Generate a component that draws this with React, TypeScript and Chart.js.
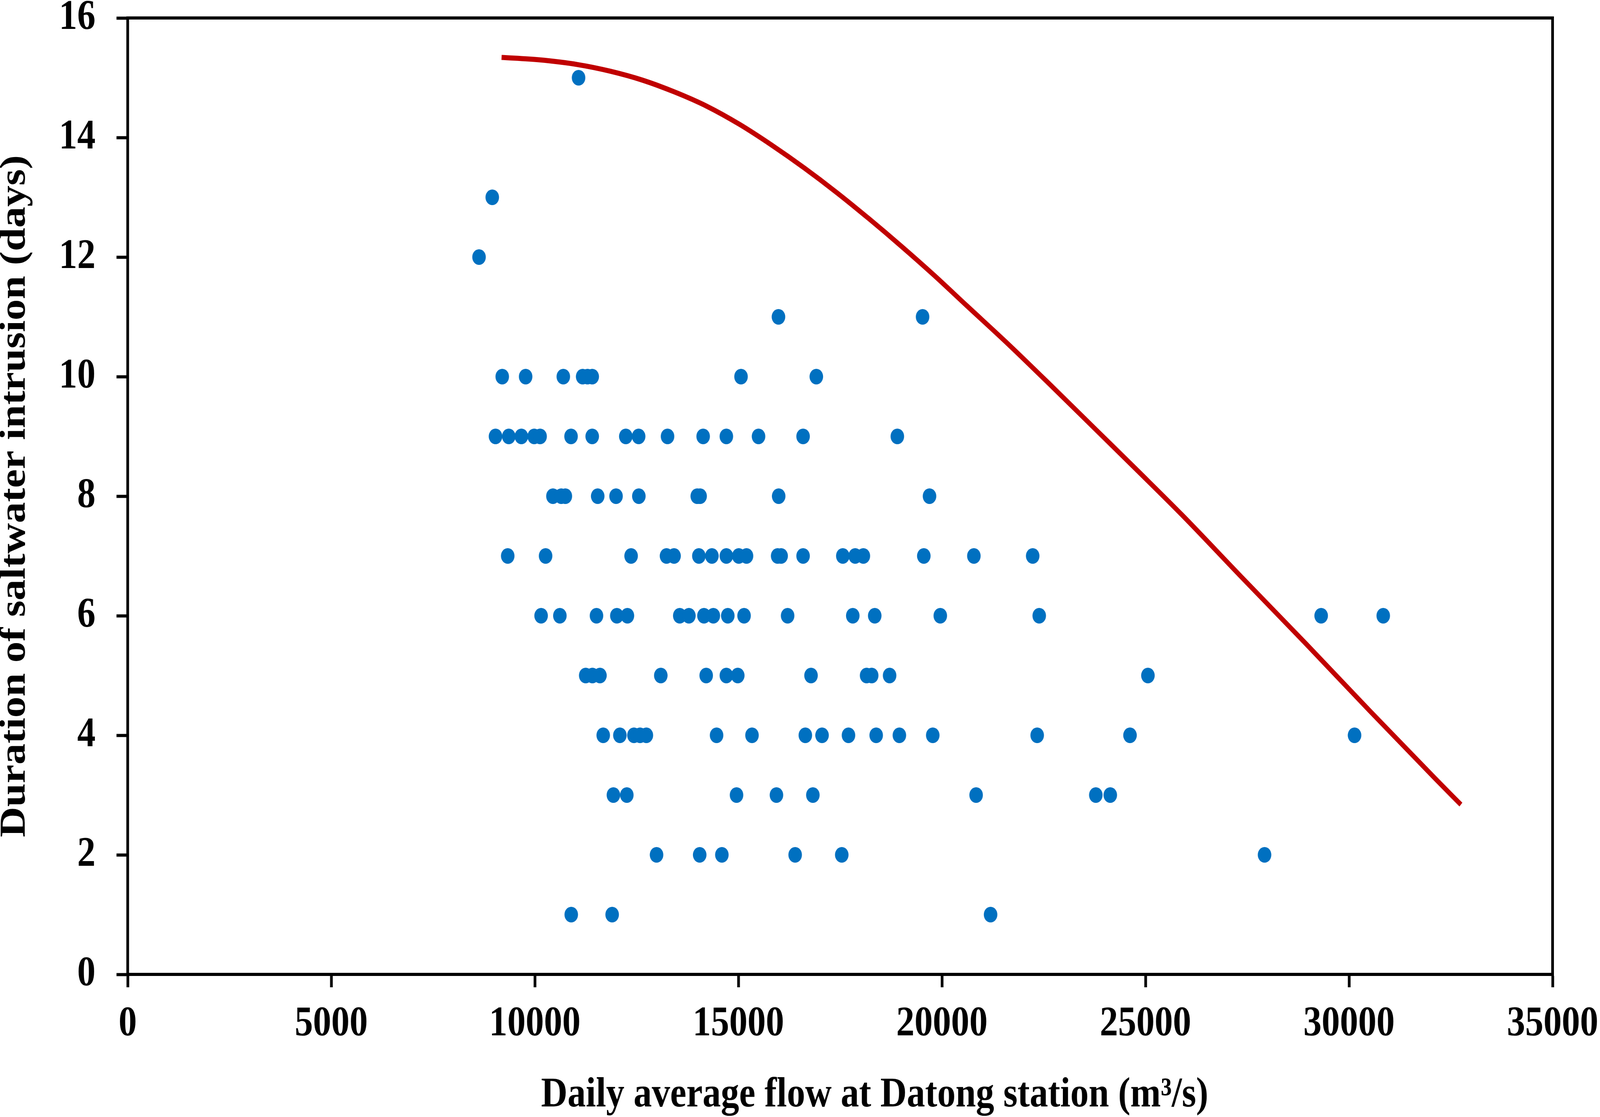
import { useEffect, useRef } from "react";
import { Chart, registerables } from "chart.js";

Chart.register(...registerables);

// ---- Axis ticks ----
const xTickValues = [0, 5000, 10000, 15000, 20000, 25000, 30000, 35000];
const yTickValues = [0, 2, 4, 6, 8, 10, 12, 14, 16];

// ---- Titles ----
const xTitle = "Daily average flow at Datong station (m³/s)";
const yTitle = "Duration of saltwater intrusion (days)";

// ---- Observed events: daily average flow (m3/s) ----
const observedFlow = [
  11075,
  8955,
  8630,
  15985, 19525,
  9200, 9775, 10700, 11175, 11295, 11410, 15065, 16915,
  9035, 9360, 9670, 9985, 10130, 10890, 11410, 12235, 12550, 13260, 14135, 14705, 15495, 16590, 18905,
  10445, 10650, 10750, 11545, 11995, 12555, 13990, 14060, 15990, 19695,
  9335, 10265, 12365, 13235, 13420, 14030, 14350, 14705, 15010, 15200, 15965, 16050, 16590, 17565, 17870, 18070, 19555, 20785, 22230,
  10155, 10615, 11515, 12015, 12275, 13560, 13785, 14155, 14385, 14740, 15140, 16210, 17810, 18350, 19960, 22390, 29315, 30840,
  11250, 11415, 11600, 13095, 14210, 14705, 14985, 16785, 18150, 18275, 18715, 25060,
  11680, 12090, 12435, 12585, 12740, 14465, 15335, 16645, 17055, 17705, 18385, 18955, 19775, 22340, 24620, 30135,
  11930, 12260, 14955, 15935, 16830, 20840, 23780, 24135,
  12990, 14050, 14595, 16395, 17540, 27925,
  10895, 11900, 21195,
];

// ---- Observed events: duration of saltwater intrusion (days) ----
const observedDuration = [
  15,
  13,
  12,
  11, 11,
  10, 10, 10, 10, 10, 10, 10, 10,
  9, 9, 9, 9, 9, 9, 9, 9, 9, 9, 9, 9, 9, 9, 9,
  8, 8, 8, 8, 8, 8, 8, 8, 8, 8,
  7, 7, 7, 7, 7, 7, 7, 7, 7, 7, 7, 7, 7, 7, 7, 7, 7, 7, 7,
  6, 6, 6, 6, 6, 6, 6, 6, 6, 6, 6, 6, 6, 6, 6, 6, 6, 6,
  5, 5, 5, 5, 5, 5, 5, 5, 5, 5, 5, 5,
  4, 4, 4, 4, 4, 4, 4, 4, 4, 4, 4, 4, 4, 4, 4, 4,
  3, 3, 3, 3, 3, 3, 3, 3,
  2, 2, 2, 2, 2, 2,
  1, 1, 1,
];

// ---- Envelope curve ----
const curveFlow = [
  9184, 10099, 11053, 11849, 12644, 13439, 14234, 15029, 15825, 16620, 17415,
  18211, 19006, 19801, 20605, 21665, 22726, 23786, 24846, 25907, 27340, 28930,
  30521, 32111, 32748,
];
const curveDuration = [
  15.34, 15.3, 15.22, 15.11, 14.96, 14.76, 14.52, 14.22, 13.87, 13.49, 13.08,
  12.64, 12.18, 11.7, 11.19, 10.52, 9.82, 9.11, 8.4, 7.68, 6.66, 5.54,
  4.4, 3.28, 2.84,
];

// Drawing surface matches the reference picture; CSS stretches it to the window.
const CANVAS_W = 4724;
const CANVAS_H = 2859;
const FONT_FAMILY = "'Liberation Serif', 'Times New Roman', serif";

const frameAndTitlePlugin = {
  id: "frameAndTitle",
  afterDraw(chart: any) {
    const { ctx, chartArea } = chart;
    ctx.save();
    ctx.strokeStyle = "#000000";
    ctx.lineWidth = 8;
    ctx.lineJoin = "miter";
    ctx.beginPath();
    ctx.moveTo(chartArea.left - 4, chartArea.top);
    ctx.lineTo(chartArea.right, chartArea.top);
    ctx.lineTo(chartArea.right, chartArea.bottom + 4);
    ctx.stroke();
    ctx.font = `bold 108px ${FONT_FAMILY}`;
    ctx.fillStyle = "#000000";
    ctx.textAlign = "center";
    ctx.textBaseline = "alphabetic";
    ctx.fillText(
      xTitle,
      (chartArea.left + chartArea.right) / 2 + 102,
      chart.height - 27
    );
    ctx.restore();
  },
};

export default function App() {
  const canvasRef = useRef<HTMLCanvasElement | null>(null);

  useEffect(() => {
    if (!canvasRef.current) return;
    const scatterPoints = observedFlow.map((x, i) => ({ x, y: observedDuration[i] }));
    const curvePoints = curveFlow.map((x, i) => ({ x, y: curveDuration[i] }));

    const tickFont = { family: FONT_FAMILY, size: 108, weight: "bold" as const, lineHeight: 1.2 };

    const chart = new Chart(canvasRef.current, {
      type: "scatter",
      data: {
        datasets: [
          {
            label: "Envelope",
            data: curvePoints,
            showLine: true,
            borderColor: "#C00000",
            backgroundColor: "#C00000",
            borderWidth: 13,
            pointRadius: 0,
            pointHoverRadius: 0,
            cubicInterpolationMode: "monotone",
            fill: false,
          },
          {
            label: "Observed",
            data: scatterPoints,
            backgroundColor: "#0070C0",
            borderWidth: 0,
            pointRadius: 20,
            pointHoverRadius: 20,
          },
        ],
      },
      options: {
        animation: false,
        responsive: false,
        maintainAspectRatio: false,
        devicePixelRatio: 1,
        layout: { padding: { top: 46, right: 140, left: 0, bottom: 0 } },
        plugins: {
          legend: { display: false },
          tooltip: { enabled: false },
          title: { display: false },
        },
        scales: {
          x: {
            type: "linear",
            position: "bottom",
            min: 0,
            max: 35000,
            afterBuildTicks: (scale: any) => {
              scale.ticks = xTickValues.map((v) => ({ value: v }));
            },
            afterFit: (scale: any) => {
              scale.height = 365;
              scale.paddingLeft = 0;
              scale.paddingRight = 0;
              scale.paddingTop = 0;
              scale.paddingBottom = 0;
            },
            border: { display: true, color: "#000000", width: 8 },
            grid: {
              drawOnChartArea: false,
              drawTicks: true,
              tickLength: 33,
              tickWidth: 8,
              tickColor: "#000000",
              color: "#000000",
            },
            ticks: {
              color: "#000000",
              font: tickFont,
              padding: 30,
              maxRotation: 0,
              autoSkip: false,
              callback: (v: any) => String(v),
            },
            title: { display: false },
          },
          y: {
            type: "linear",
            position: "left",
            min: 0,
            max: 16,
            afterBuildTicks: (scale: any) => {
              scale.ticks = yTickValues.map((v) => ({ value: v }));
            },
            afterFit: (scale: any) => {
              scale.width = 377;
              scale.paddingLeft = 0;
              scale.paddingRight = 0;
              scale.paddingTop = 0;
              scale.paddingBottom = 0;
            },
            border: { display: true, color: "#000000", width: 8 },
            grid: {
              drawOnChartArea: false,
              drawTicks: true,
              tickLength: 33,
              tickWidth: 8,
              tickColor: "#000000",
              color: "#000000",
            },
            ticks: {
              color: "#000000",
              font: tickFont,
              padding: 62,
              autoSkip: false,
              callback: (v: any) => String(v),
            },
            title: {
              display: true,
              text: yTitle,
              color: "#000000",
              font: { family: FONT_FAMILY, size: 108, weight: "bold", lineHeight: 0.83 },
              padding: { top: 0, bottom: 0 },
            },
          },
        },
      },
      plugins: [frameAndTitlePlugin],
    } as any);

    return () => {
      chart.destroy();
    };
  }, []);

  return (
    <div
      style={{
        position: "fixed",
        left: 0,
        top: 0,
        width: "100vw",
        height: "100vh",
        background: "#ffffff",
        overflow: "hidden",
      }}
    >
      <canvas
        ref={canvasRef}
        width={CANVAS_W}
        height={CANVAS_H}
        style={{ display: "block", width: "100vw", height: "100vh" }}
      />
    </div>
  );
}
